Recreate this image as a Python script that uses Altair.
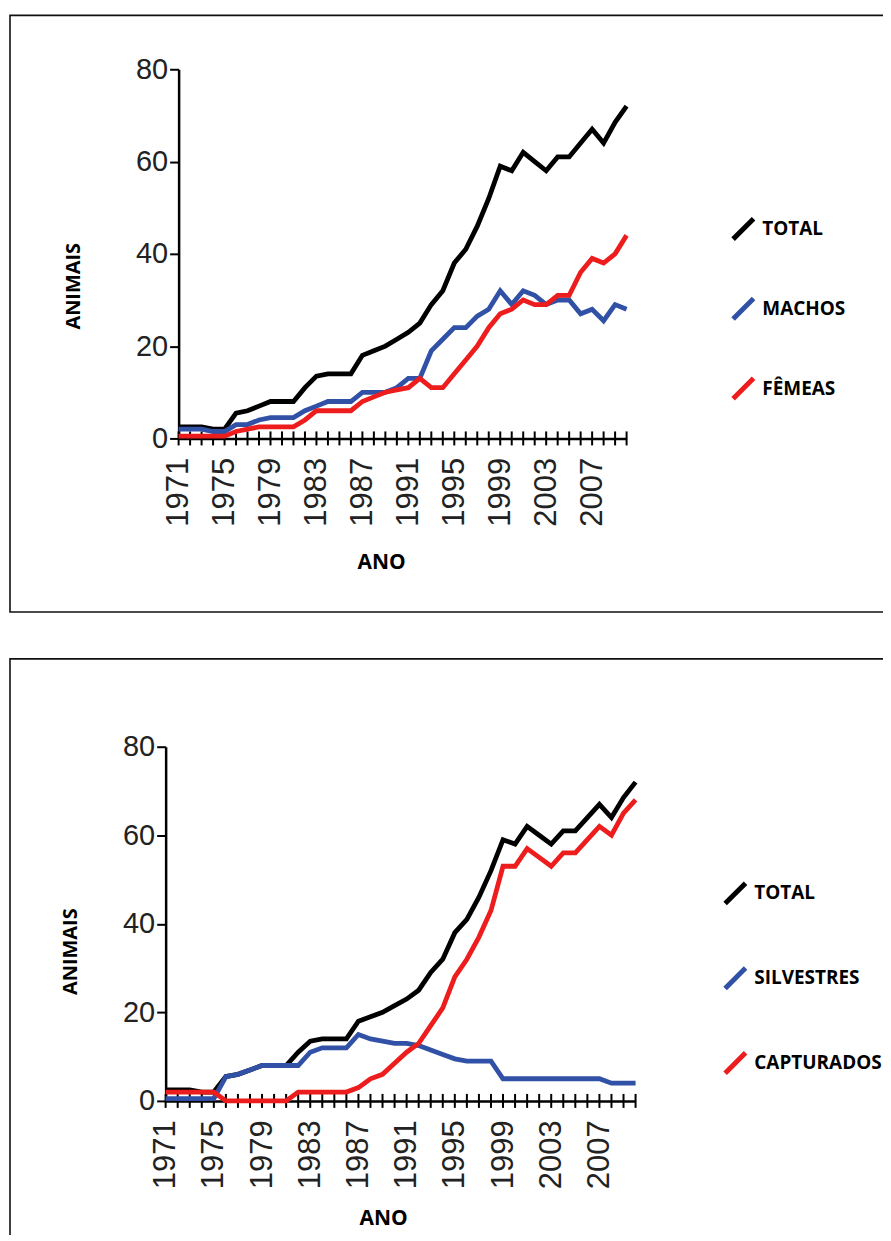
import altair as alt
import pandas as pd

years = list(range(1971, 2011))
label_years = [1971, 1975, 1979, 1983, 1987, 1991, 1995, 1999, 2003, 2007]
y_ticks = [0, 20, 40, 60, 80]

total = [2.5, 2.5, 2.5, 2, 2, 5.5, 6, 7, 8, 8,
         8, 11, 13.5, 14, 14, 14, 18, 19, 20, 21.5,
         23, 25, 29, 32, 38, 41, 46, 52, 59, 58,
         62, 60, 58, 61, 61, 64, 67, 64, 68.5, 72]
machos = [2, 2, 2, 1.5, 1.5, 3, 3, 4, 4.5, 4.5,
          4.5, 6, 7, 8, 8, 8, 10, 10, 10, 11,
          13, 13, 19, 21.5, 24, 24, 26.5, 28, 32, 29,
          32, 31, 29, 30, 30, 27, 28, 25.5, 29, 28]
femeas = [0.5, 0.5, 0.5, 0.5, 0.5, 1.5, 2, 2.5, 2.5, 2.5,
          2.5, 4, 6, 6, 6, 6, 8, 9, 10, 10.5,
          11, 13, 11, 11, 14, 17, 20, 24, 27, 28,
          30, 29, 29, 31, 31, 36, 39, 38, 40, 44]
silvestres = [0.5, 0.5, 0.5, 0.5, 0.5, 5.5, 6, 7, 8, 8,
              8, 8, 11, 12, 12, 12, 15, 14, 13.5, 13,
              13, 12.5, 11.5, 10.5, 9.5, 9, 9, 9, 5, 5,
              5, 5, 5, 5, 5, 5, 5, 4, 4, 4]
capturados = [2, 2, 2, 2, 2, 0, 0, 0, 0, 0,
              0, 2, 2, 2, 2, 2, 3, 5, 6, 8.5,
              11, 13, 17, 21, 28, 32, 37, 43, 53, 53,
              57, 55, 53, 56, 56, 59, 62, 60, 65, 68]

names_top = ["TOTAL", "MACHOS", "FÊMEAS"]
names_bottom = ["TOTAL", "SILVESTRES", "CAPTURADOS"]
colors = ["#000000", "#3151A6", "#EE1D1D"]

TICK_FONT = "Liberation Sans"
TITLE_FONT = "Open Sans"
label_expr = "indexof(%s, datum.value) >= 0 ? datum.label : ''" % str(label_years)


def build_df(names, series):
    rows = []
    for name, vals in zip(names, series):
        for yr, v in zip(years, vals):
            rows.append({"ano": yr, "animais": v, "serie": name})
    return pd.DataFrame(rows)


tick_df = pd.DataFrame({"ano": years, "base": [0] * len(years)})


def panel(df, names, W, H, xr, yr, ttl_y, ttl_x, leg_xy, row_pad):
    xscale = alt.Scale(domain=[1971, 2010], range=xr, nice=False, zero=False)
    yscale = alt.Scale(domain=[0, 80], range=yr, nice=False, zero=False)
    x_axis = alt.Axis(
        orient="bottom", offset=yr[0] - H, values=years, format="d",
        labelExpr=label_expr,
        labelAngle=270, labelFont=TICK_FONT, labelFontSize=31, labelColor="#222",
        labelPadding=19, labelOverlap=False, labelFlush=False, labelBound=False,
        ticks=False, domainColor="black", domainWidth=2.5, grid=False,
        title="ANO", titleFont=TITLE_FONT, titleFontWeight="bold", titleFontSize=21,
        titleColor="black", titleX=ttl_x[0], titleY=ttl_x[1],
        titleAlign="center", titleBaseline="middle",
    )
    y_axis = alt.Axis(
        orient="left", offset=-xr[0], values=y_ticks,
        labelFont=TICK_FONT, labelFontSize=29, labelColor="#222", labelPadding=2,
        labelFlush=False, labelBound=False,
        tickSize=9, tickWidth=2, tickColor="black",
        domainColor="black", domainWidth=2.5, grid=False,
        title="ANIMAIS", titleFont=TITLE_FONT, titleFontWeight="bold", titleFontSize=20,
        titleColor="black", titleAngle=270, titleX=ttl_y[0], titleY=ttl_y[1],
        titleAlign="center", titleBaseline="middle",
    )
    ticks = alt.Chart(tick_df).mark_tick(
        orient="vertical", size=14, thickness=2, color="black", opacity=1
    ).encode(
        x=alt.X("ano:Q", scale=xscale, axis=x_axis),
        y=alt.Y("base:Q", scale=yscale, axis=y_axis),
    )
    lines = alt.Chart(df).mark_line(strokeWidth=4.8, strokeJoin="miter").encode(
        x=alt.X("ano:Q", scale=xscale),
        y=alt.Y("animais:Q", scale=yscale),
        color=alt.Color(
            "serie:N",
            scale=alt.Scale(domain=names, range=colors),
            legend=alt.Legend(
                orient="none", legendX=leg_xy[0], legendY=leg_xy[1], title=None,
                symbolType="M-1,1L1,-1", symbolSize=420, symbolStrokeWidth=5,
                labelFont=TITLE_FONT, labelFontWeight="bold", labelFontSize=19,
                labelColor="black", labelOffset=6, rowPadding=row_pad, padding=0,
                labelLimit=400,
            ),
        ),
        order=alt.Order("ord:Q"),
    ).transform_calculate(
        ord="indexof(%s, datum.serie)" % str(names)
    )
    return alt.layer(ticks, lines).properties(
        width=W, height=H,
        view=alt.ViewBackground(stroke="#111", strokeWidth=1.6, fill="white"),
    )


top = panel(build_df(names_top, [total, machos, femeas]), names_top,
            W=900, H=598, xr=[169, 618], yr=[424, 54],
            ttl_y=(-105, 271), ttl_x=(372, 124), leg_xy=(722, 201), row_pad=38)
bottom = panel(build_df(names_bottom, [total, silvestres, capturados]), names_bottom,
               W=900, H=600, xr=[156, 627], yr=[443, 88],
               ttl_y=(-95, 293), ttl_x=(374, 118), leg_xy=(714, 222), row_pad=43)

chart = alt.vconcat(top, bottom, spacing=45).resolve_scale(color="independent").properties(
    padding={"left": 1, "top": 5, "right": -26, "bottom": -25},
    background="white",
)

chart.save("out.html", embed_options={"renderer": "svg", "actions": False})
